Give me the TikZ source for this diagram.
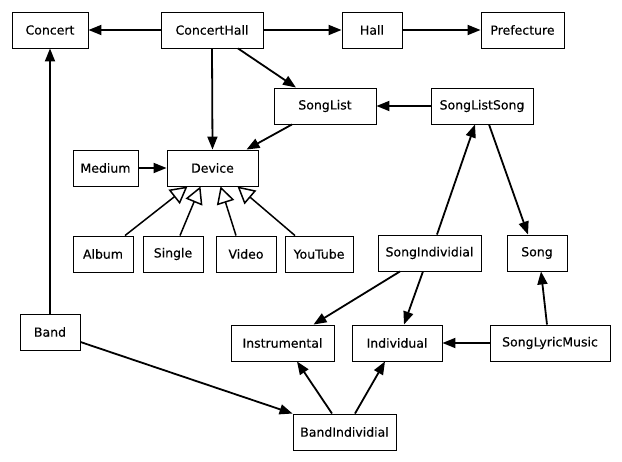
\documentclass[tikz,border=0pt]{standalone}
\usepackage{fontspec}
\setmainfont{DejaVu Sans}
\newfontfamily\boxfont{DejaVu Sans}[FakeBold=0.35]
\usepackage{tikz}
\usetikzlibrary{arrows.meta, positioning}

\begin{document}
\begin{tikzpicture}[
    x=1pt, y=-1pt,
    entity/.style={rectangle, draw, line width=0.9pt, minimum height=36pt, inner sep=2pt, align=center, font=\boxfont\fontsize{12.5}{14}\selectfont},
    rel/.style={line width=1.8pt, -{Triangle[length=13pt, width=10pt]}},
    isa/.style={line width=1.5pt, -{Triangle[open, length=17pt, width=18pt]}}
]
\useasboundingbox (0,0) rectangle (622,462);

\node[entity, minimum width=76pt] (concert) at (50,30) {Concert};
\node[entity, minimum width=102pt] (concerthall) at (212,30) {ConcertHall};
\node[entity, minimum width=60pt] (hall) at (372,30) {Hall};
\node[entity, minimum width=83pt] (prefecture) at (522.5,30) {Prefecture};
\node[entity, minimum width=102pt] (songlist) at (325,106) {SongList};
\node[entity, minimum width=102pt] (songlistsong) at (482,106) {SongListSong};
\node[entity, minimum width=65pt] (medium) at (105.5,168) {Medium};
\node[entity, minimum width=91pt] (device) at (212.5,168) {Device};
\node[entity, minimum width=60pt] (album) at (103,254) {Album};
\node[entity, minimum width=60pt] (single) at (173,254) {Single};
\node[entity, minimum width=60pt] (video) at (246,254) {Video};
\node[entity, minimum width=68pt] (youtube) at (319,254) {YouTube};
\node[entity, minimum width=103pt] (songindividial) at (429.5,253) {SongIndividial};
\node[entity, minimum width=60pt] (song) at (537,253) {Song};
\node[entity, minimum width=60pt] (band) at (50,332) {Band};
\node[entity, minimum width=103pt] (instrumental) at (282.5,343) {Instrumental};
\node[entity, minimum width=90pt] (individual) at (397,343) {Individual};
\node[entity, minimum width=120pt] (songlyricmusic) at (550,343) {SongLyricMusic};
\node[entity, minimum width=103pt] (bandindividial) at (344.5,432) {BandIndividial};

\draw[rel] (concerthall) -- (concert);
\draw[rel] (concerthall) -- (hall);
\draw[rel] (hall) -- (prefecture);
\draw[rel] (concerthall.south) -- (device.north);
\draw[rel] ([xshift=26pt]concerthall.south) -- ([xshift=-29pt]songlist.north);
\draw[rel] ([xshift=-33pt]songlist.south) -- ([xshift=34pt]device.north);
\draw[rel] (songlistsong) -- (songlist);
\draw[rel] (medium) -- (device);

\draw[isa] ([xshift=22pt]album.north) -- ([xshift=-25pt]device.south);
\draw[isa] ([xshift=7pt]single.north) -- ([xshift=-12pt]device.south);
\draw[isa] ([xshift=-10pt]video.north) -- ([xshift=8pt]device.south);
\draw[isa] ([xshift=-24pt]youtube.north) -- ([xshift=25pt]device.south);

\draw[rel] ([xshift=7.5pt]songindividial.north) -- ([xshift=-7pt]songlistsong.south);
\draw[rel] ([xshift=7pt]songlistsong.south) -- ([xshift=-9pt]song.north);
\draw[rel] ([xshift=-29.5pt]songindividial.south) -- ([xshift=31pt]instrumental.north);
\draw[rel] ([xshift=-6.5pt]songindividial.south) -- ([xshift=7pt]individual.north);
\draw[rel] ([xshift=-3pt]songlyricmusic.north) -- ([xshift=4pt]song.south);
\draw[rel] (songlyricmusic) -- (individual);

\draw[rel] (band.north) -- (concert.south);
\draw[rel] ([yshift=-10pt]band.east) -- (bandindividial.north west);
\draw[rel] ([xshift=-12.5pt]bandindividial.north) -- ([xshift=14.5pt]instrumental.south);
\draw[rel] ([xshift=10.5pt]bandindividial.north) -- ([xshift=-12pt]individual.south);
\end{tikzpicture}
\end{document}
